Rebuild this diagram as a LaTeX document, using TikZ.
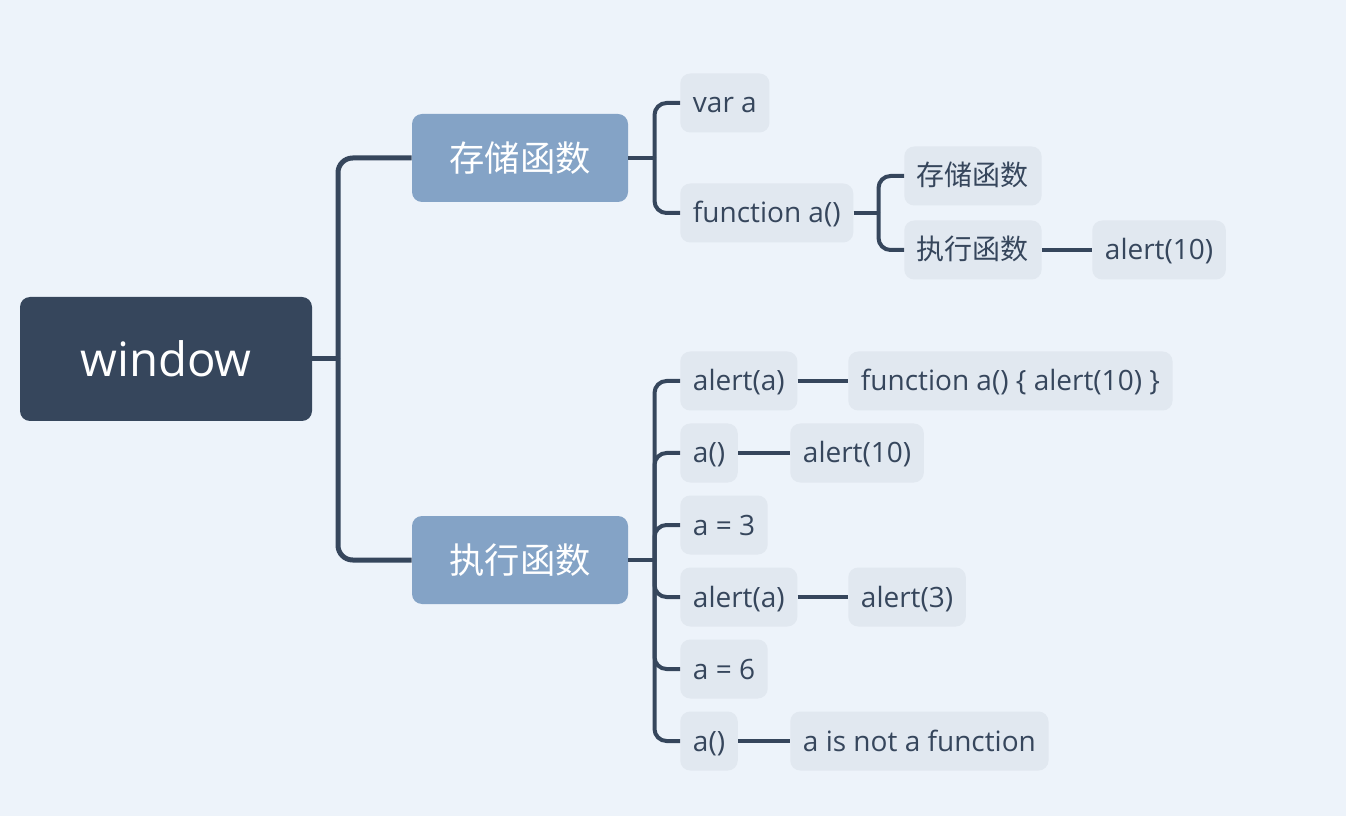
\documentclass[tikz,border=0pt]{standalone}
\usepackage{fontspec}
\setmainfont{Open Sans}
\newfontfamily\cjk{Noto Sans CJK SC}
\definecolor{bg}{HTML}{EDF3FA}
\definecolor{dark}{HTML}{36465C}
\definecolor{mid}{HTML}{84A3C6}
\definecolor{light}{HTML}{E1E8F0}
\begin{document}
\begin{tikzpicture}[x=0.75pt,y=-0.75pt,
  rootbox/.style={fill=dark, rounded corners=7.5pt, minimum width=219pt, minimum height=93pt,
    text=white, inner sep=0pt, font=\fontsize{35.5}{40}\selectfont},
  midbox/.style={fill=mid, rounded corners=7.5pt, minimum width=162pt, minimum height=66pt,
    text=white, inner sep=0pt, font=\cjk\fontsize{26.5}{30}\selectfont},
  leaf/.style={fill=light, rounded corners=7.5pt, anchor=west, inner xsep=9.5pt, inner ysep=0pt,
    minimum height=44.25pt, text=dark, text height=17pt, text depth=2pt,
    font=\fontsize{21}{24}\selectfont},
  cjkleaf/.style={leaf, font=\cjk\fontsize{21}{24}\selectfont},
  trunk/.style={draw=dark, line width=3.75pt, rounded corners=11pt},
  conn/.style={draw=dark, line width=3pt, rounded corners=9pt}]
\fill[bg] (0,0) rectangle (1346,816);
\useasboundingbox (0,0) rectangle (1346,816);

% nodes
\node[rootbox] (win) at (166,359) {window};
\node[midbox] (store) at (520,158) {存储函数};
\node[midbox] (exec) at (520,560) {执行函数};

\node[leaf] (vara) at (680,103) {var a};
\node[leaf] (funca) at (680,213) {function a()};
\node[cjkleaf] (store2) at (904,176) {存储函数};
\node[cjkleaf] (exec2) at (904,250) {执行函数};
\node[leaf] (al10a) at (1092,250) {alert(10)};

\node[leaf] (b1) at (680,381) {alert(a)};
\node[leaf] (b1r) at (848,381) {function a() \{ alert(10) \}};
\node[leaf] (b2) at (680,453) {a()};
\node[leaf] (b2r) at (790,453) {alert(10)};
\node[leaf] (b3) at (680,525) {a = 3};
\node[leaf] (b4) at (680,597) {alert(a)};
\node[leaf] (b4r) at (848,597) {alert(3)};
\node[leaf] (b5) at (680,669) {a = 6};
\node[leaf] (b6) at (680,741) {a()};
\node[leaf] (b6r) at (790,741) {a is not a function};

% junctions
\coordinate (j0) at (338,359);
\coordinate (j1) at (654.5,158);
\coordinate (j2) at (878.5,213);
\coordinate (j3) at (654.5,560);

% connectors
\draw[trunk] (win.east) -- (j0);
\draw[trunk] (j0) |- (store.west);
\draw[trunk] (j0) |- (exec.west);

\draw[conn] (store.east) -- (j1);
\draw[conn] (j1) |- (vara.west);
\draw[conn] (j1) |- (funca.west);

\draw[conn] (funca.east) -- (j2);
\draw[conn] (j2) |- (store2.west);
\draw[conn] (j2) |- (exec2.west);
\draw[conn] (exec2.east) -- (al10a.west);

\draw[conn] (exec.east) -- (j3);
\foreach \n in {b1,b2,b3,b4,b5,b6} \draw[conn] (j3) |- (\n.west);
\draw[conn] (b1.east) -- (b1r.west);
\draw[conn] (b2.east) -- (b2r.west);
\draw[conn] (b4.east) -- (b4r.west);
\draw[conn] (b6.east) -- (b6r.west);
\end{tikzpicture}
\end{document}
